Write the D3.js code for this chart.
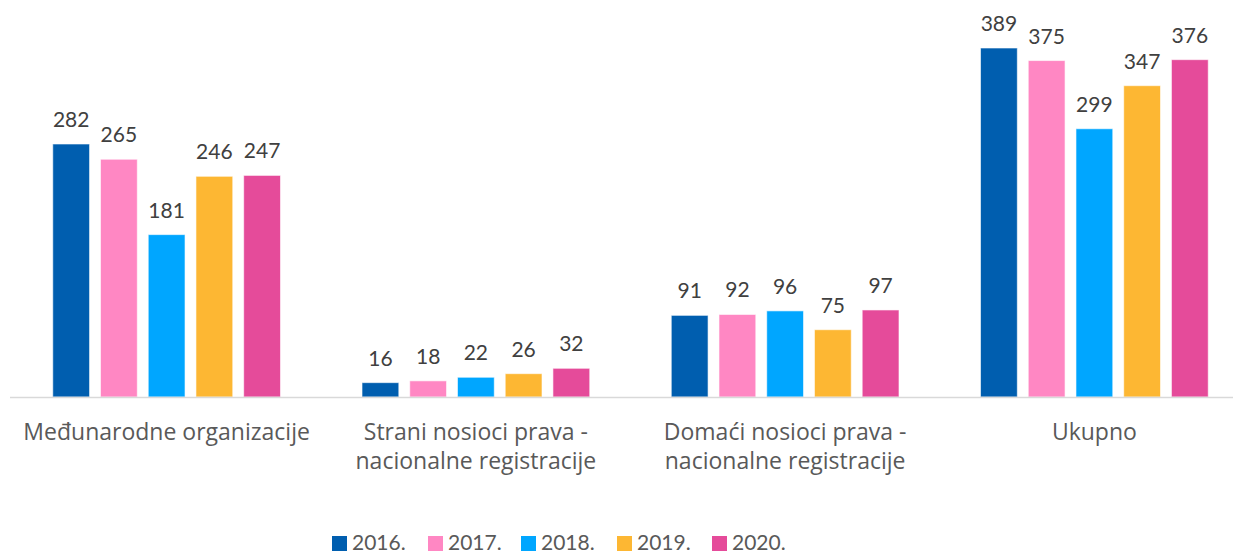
<!DOCTYPE html>
<html>
<head>
<meta charset="utf-8">
<script src="https://cdn.jsdelivr.net/npm/d3@7"></script>
<style>
  body { margin: 0; background: #fff; }
  svg { display: block; }
</style>
</head>
<body>
<svg id="chart" width="1233" height="554"></svg>
<script>
// categories (each may wrap to two lines)
const categories = [
    ["Međunarodne organizacije"],
    ["Strani nosioci prava -", "nacionalne registracije"],
    ["Domaći nosioci prava -", "nacionalne registracije"],
    ["Ukupno"]
];
const years = ["2016.", "2017.", "2018.", "2019.", "2020."];
const colors = ["#005EAF", "#FF87C3", "#00A6FF", "#FDB733", "#E54B9A"];

// values per year, in category order
const v2016 = [282, 16, 91, 389];
const v2017 = [265, 18, 92, 375];
const v2018 = [181, 22, 96, 299];
const v2019 = [246, 26, 75, 347];
const v2020 = [247, 32, 97, 376];
const series = [v2016, v2017, v2018, v2019, v2020];

let svg = d3.select("#chart");

let baseY = 397;
let x0 = d3.scaleBand()
    .domain(d3.range(categories.length))
    .range([12, 1249])
    .paddingInner(0)
    .paddingOuter(0);

let x1 = d3.scaleBand()
    .domain(d3.range(years.length))
    .range([0, x0.bandwidth()])
    .paddingInner(0.229)
    .paddingOuter(0.854);

let y = d3.scaleLinear().domain([0, 389]).range([baseY, 48]);

// bars
let groups = svg.append("g").selectAll("g")
    .data(categories)
    .join("g")
    .attr("transform", (d, i) => `translate(${x0(i)},0)`);

groups.selectAll("rect")
    .data((d, i) => series.map((s, k) => ({ k: k, v: s[i] })))
    .join("rect")
    .attr("x", d => x1(d.k))
    .attr("y", d => y(d.v))
    .attr("width", x1.bandwidth())
    .attr("height", d => baseY - y(d.v))
    .attr("fill", d => colors[d.k])
    .attr("stroke", "#fff")
    .attr("stroke-opacity", 0.6)
    .attr("stroke-width", 1);

groups.selectAll("text.val")
    .data((d, i) => series.map((s, k) => ({ k: k, v: s[i] })))
    .join("text")
    .attr("class", "val")
    .attr("x", d => x1(d.k) + x1.bandwidth() / 2)
    .attr("y", d => y(d.v) - 17)
    .attr("text-anchor", "middle")
    .attr("font-family", "Lato, 'Open Sans', sans-serif")
    .attr("font-size", 21)
    .attr("fill", "#404040")
    .text(d => d.v);

// axis line
svg.append("line")
    .attr("x1", 10).attr("x2", 1233)
    .attr("y1", baseY + 0.5).attr("y2", baseY + 0.5)
    .attr("stroke", "#d9d9d9")
    .attr("stroke-width", 1.5);

// category labels
let labels = svg.append("g").selectAll("text")
    .data(categories)
    .join("text")
    .attr("x", (d, i) => x0(i) + x0.bandwidth() / 2)
    .attr("y", 440)
    .attr("text-anchor", "middle")
    .attr("font-family", "'Open Sans', sans-serif")
    .attr("font-size", 23)
    .attr("fill", "#595959");

labels.selectAll("tspan")
    .data(d => d)
    .join("tspan")
    .attr("x", function() { return this.parentNode.getAttribute("x"); })
    .attr("dy", (d, i) => i === 0 ? 0 : 29)
    .text(d => d);

// legend
let legendX = [332, 428, 521, 617, 712];
let legend = svg.append("g").selectAll("g")
    .data(years)
    .join("g")
    .attr("transform", (d, i) => `translate(${legendX[i]},536)`);

legend.append("rect")
    .attr("width", 15).attr("height", 15)
    .attr("fill", (d, i) => colors[i]);

legend.append("text")
    .attr("x", 20)
    .attr("y", 14)
    .attr("font-family", "Lato, 'Open Sans', sans-serif")
    .attr("font-size", 21)
    .attr("fill", "#595959")
    .text(d => d);
</script>
</body>
</html>
